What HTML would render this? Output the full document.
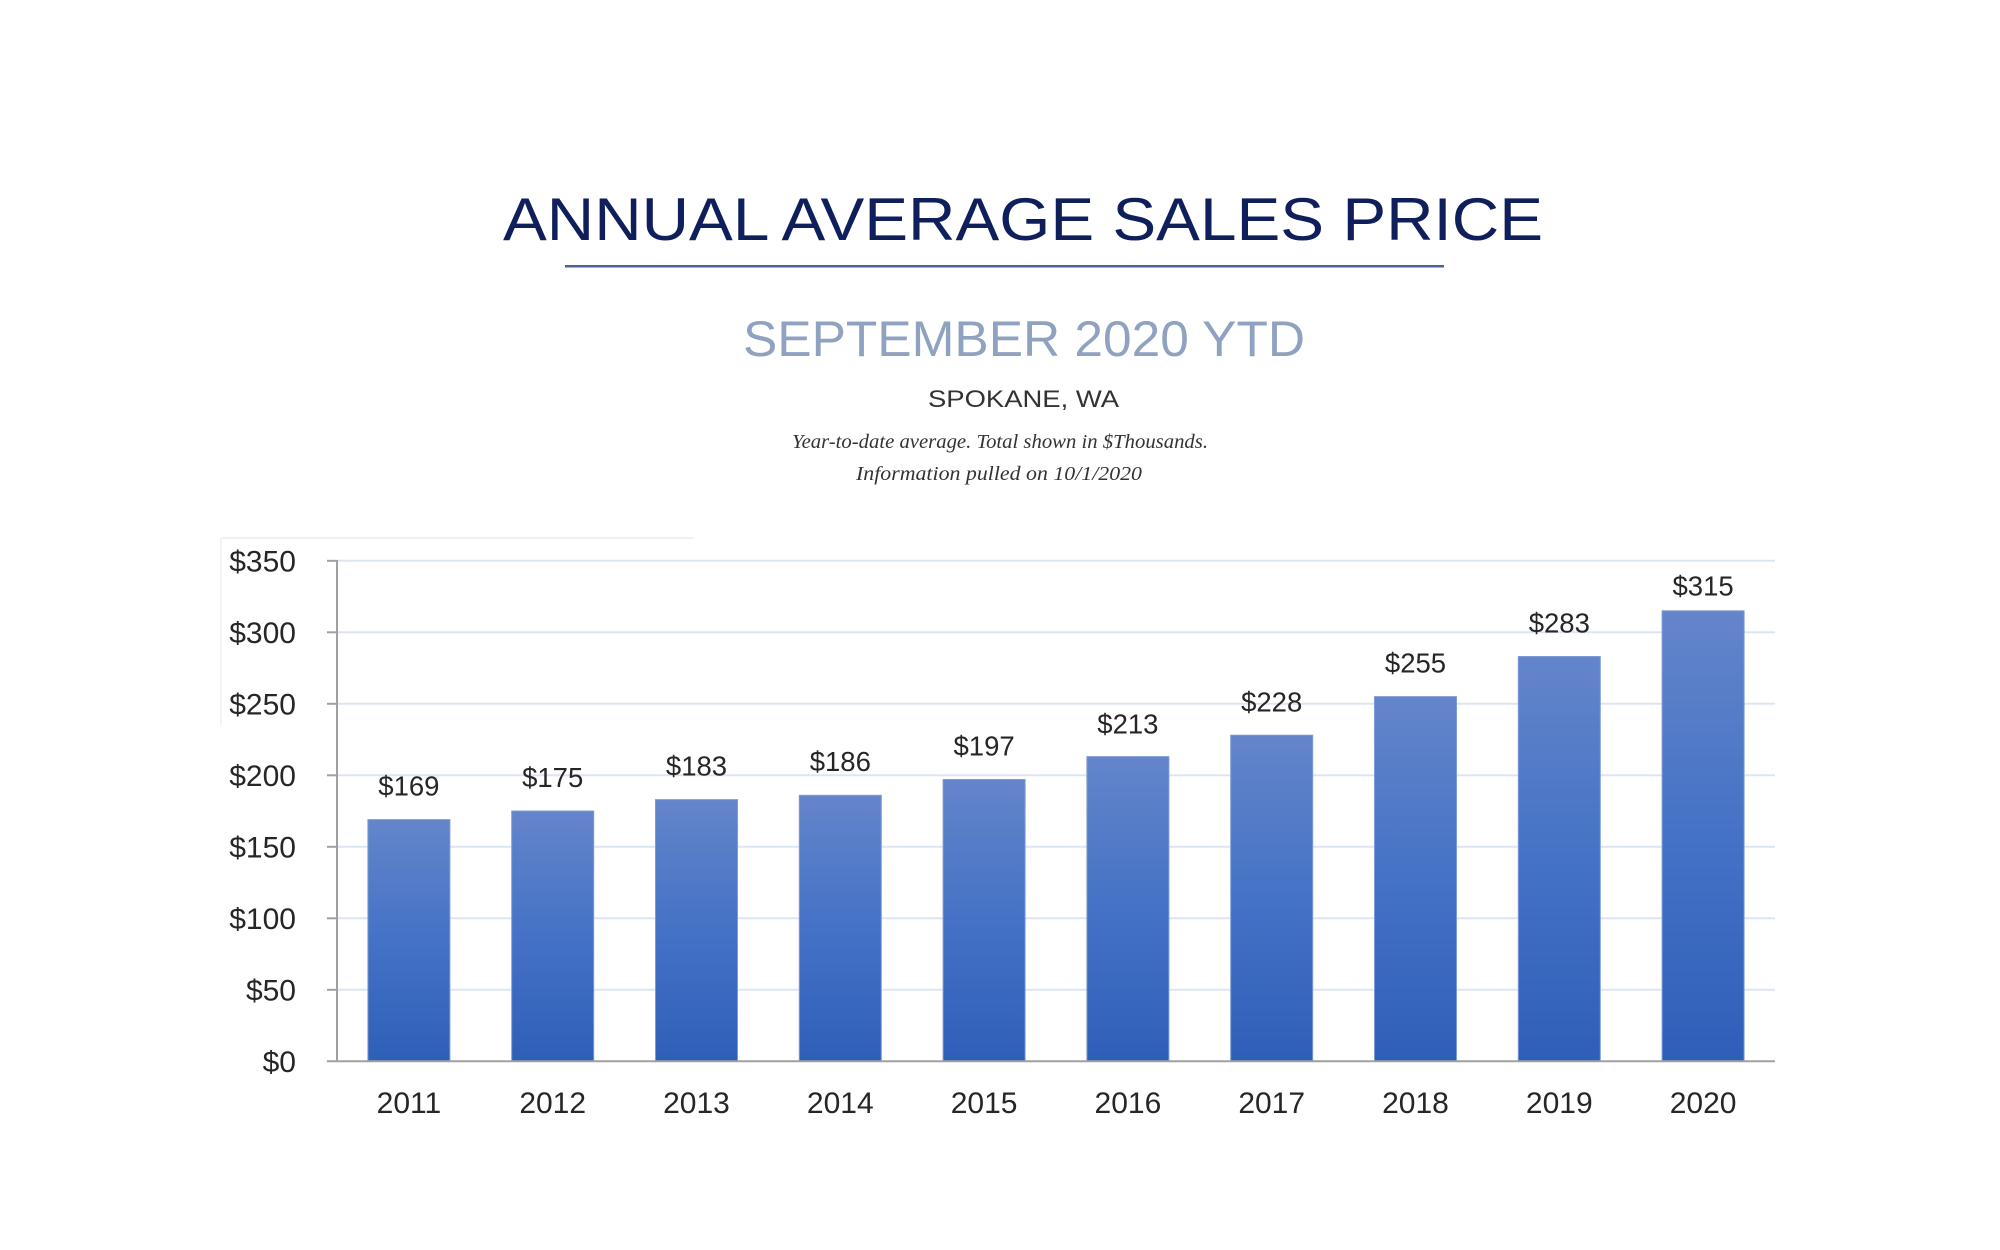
<!DOCTYPE html>
<html>
<head>
<meta charset="utf-8">
<style>
  html, body { margin: 0; padding: 0; background: #ffffff; }
  body { width: 2000px; height: 1250px; overflow: hidden; }
  svg { display: block; }
</style>
</head>
<body>
<svg width="2000" height="1250" viewBox="0 0 2000 1250" xmlns="http://www.w3.org/2000/svg">
  <defs>
    <linearGradient id="barg" x1="0" y1="0" x2="0" y2="1">
      <stop offset="0" stop-color="#6485ca"/>
      <stop offset="0.5" stop-color="#4472c6"/>
      <stop offset="1" stop-color="#2e5fb8"/>
    </linearGradient>
  </defs>
  <rect x="0" y="0" width="2000" height="1250" fill="#ffffff"/>

  <!-- Titles -->
  <text x="503" y="240" font-family="Liberation Sans, sans-serif" font-size="60.5" fill="#0f1f5c" textLength="1040" lengthAdjust="spacingAndGlyphs">ANNUAL AVERAGE SALES PRICE</text>
  <rect x="565" y="265" width="879" height="2.5" fill="#4a6294"/>
  <text x="743" y="356" font-family="Liberation Sans, sans-serif" font-size="50" fill="#8fa2c0" textLength="562" lengthAdjust="spacingAndGlyphs">SEPTEMBER 2020 YTD</text>
  <text x="928" y="407" font-family="Liberation Sans, sans-serif" font-size="24" fill="#333333" textLength="191" lengthAdjust="spacingAndGlyphs">SPOKANE, WA</text>
  <text x="792" y="448" font-family="Liberation Serif, serif" font-style="italic" font-size="20" fill="#333333" textLength="416" lengthAdjust="spacingAndGlyphs">Year-to-date average.  Total shown in $Thousands.</text>
  <text x="856" y="480" font-family="Liberation Serif, serif" font-style="italic" font-size="20" fill="#333333" textLength="286" lengthAdjust="spacingAndGlyphs">Information pulled on 10/1/2020</text>

  <!-- faint frame remnants -->
  <line x1="221" y1="538" x2="694" y2="538" stroke="#f1f1f1" stroke-width="2"/>
  <line x1="221" y1="538" x2="221" y2="725" stroke="#f3f3f3" stroke-width="2"/>

  <!-- gridlines -->
  <g stroke="#dde5f2" stroke-width="2">
    <line x1="337" y1="989.8" x2="1775" y2="989.8"/>
    <line x1="337" y1="918.3" x2="1775" y2="918.3"/>
    <line x1="337" y1="846.8" x2="1775" y2="846.8"/>
    <line x1="337" y1="775.3" x2="1775" y2="775.3"/>
    <line x1="337" y1="703.8" x2="1775" y2="703.8"/>
    <line x1="337" y1="632.3" x2="1775" y2="632.3"/>
    <line x1="337" y1="560.8" x2="1775" y2="560.8"/>
  </g>

  <!-- bars -->
  <g fill="url(#barg)" stroke="#7f9bd6" stroke-width="1">
    <rect x="367.9" y="819.6" width="82" height="241.7"/>
    <rect x="511.7" y="811.0" width="82" height="250.3"/>
    <rect x="655.5" y="799.6" width="82" height="261.7"/>
    <rect x="799.3" y="795.3" width="82" height="266.0"/>
    <rect x="943.1" y="779.5" width="82" height="281.8"/>
    <rect x="1086.9" y="756.6" width="82" height="304.7"/>
    <rect x="1230.7" y="735.2" width="82" height="326.1"/>
    <rect x="1374.5" y="696.6" width="82" height="364.7"/>
    <rect x="1518.3" y="656.5" width="82" height="404.8"/>
    <rect x="1662.1" y="610.8" width="82" height="450.5"/>
  </g>

  <!-- axes -->
  <g stroke="#a0a0a0" stroke-width="2">
    <line x1="337" y1="560" x2="337" y2="1062"/>
    <line x1="327" y1="1061.3" x2="1775" y2="1061.3"/>
    <line x1="327" y1="989.8" x2="337" y2="989.8"/>
    <line x1="327" y1="918.3" x2="337" y2="918.3"/>
    <line x1="327" y1="846.8" x2="337" y2="846.8"/>
    <line x1="327" y1="775.3" x2="337" y2="775.3"/>
    <line x1="327" y1="703.8" x2="337" y2="703.8"/>
    <line x1="327" y1="632.3" x2="337" y2="632.3"/>
    <line x1="327" y1="560.8" x2="337" y2="560.8"/>
  </g>

  <!-- y labels -->
  <g font-family="Liberation Sans, sans-serif" font-size="30" fill="#262626" text-anchor="end">
    <text x="296" y="1072">$0</text>
    <text x="296" y="1000.5">$50</text>
    <text x="296" y="929">$100</text>
    <text x="296" y="857.5">$150</text>
    <text x="296" y="786">$200</text>
    <text x="296" y="714.5">$250</text>
    <text x="296" y="643">$300</text>
    <text x="296" y="571.5">$350</text>
  </g>

  <!-- x labels -->
  <g font-family="Liberation Sans, sans-serif" font-size="30" fill="#262626" text-anchor="middle">
    <text x="408.9" y="1113">2011</text>
    <text x="552.7" y="1113">2012</text>
    <text x="696.5" y="1113">2013</text>
    <text x="840.3" y="1113">2014</text>
    <text x="984.1" y="1113">2015</text>
    <text x="1127.9" y="1113">2016</text>
    <text x="1271.7" y="1113">2017</text>
    <text x="1415.5" y="1113">2018</text>
    <text x="1559.3" y="1113">2019</text>
    <text x="1703.1" y="1113">2020</text>
  </g>

  <!-- data labels -->
  <g font-family="Liberation Sans, sans-serif" font-size="27.5" fill="#262626" text-anchor="middle">
    <text x="408.9" y="795.5">$169</text>
    <text x="552.7" y="786.8">$175</text>
    <text x="696.5" y="775.4">$183</text>
    <text x="840.3" y="771.1">$186</text>
    <text x="984.1" y="755.3">$197</text>
    <text x="1127.9" y="733.5">$213</text>
    <text x="1271.7" y="711.5">$228</text>
    <text x="1415.5" y="672.4">$255</text>
    <text x="1559.3" y="632.5">$283</text>
    <text x="1703.1" y="595.5">$315</text>
  </g>
</svg>
</body>
</html>
